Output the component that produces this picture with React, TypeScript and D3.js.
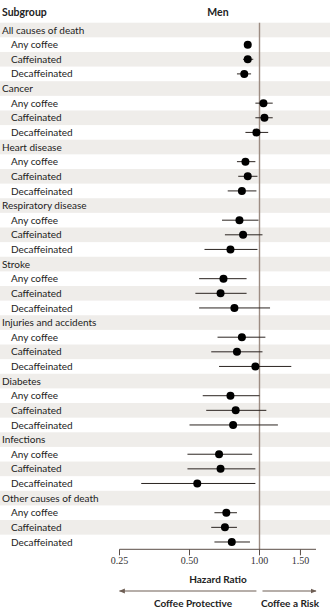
import React from "react";
import * as d3 from "d3";

const groups = [
  "All causes of death",
  "Cancer",
  "Heart disease",
  "Respiratory disease",
  "Stroke",
  "Injuries and accidents",
  "Diabetes",
  "Infections",
  "Other causes of death",
];
const subtypes = ["Any coffee", "Caffeinated", "Decaffeinated"];

const hr = [0.89, 0.89, 0.86, 1.04, 1.05, 0.97, 0.87, 0.89, 0.84, 0.82, 0.85, 0.75, 0.7, 0.68, 0.78, 0.84, 0.8, 0.96, 0.75, 0.79, 0.77, 0.67, 0.68, 0.54, 0.72, 0.71, 0.76];
const lo = [0.86, 0.85, 0.8, 0.96, 0.96, 0.87, 0.8, 0.81, 0.73, 0.69, 0.71, 0.58, 0.55, 0.53, 0.55, 0.66, 0.62, 0.67, 0.57, 0.59, 0.5, 0.49, 0.49, 0.31, 0.64, 0.62, 0.64];
const hi = [0.92, 0.94, 0.92, 1.14, 1.14, 1.09, 0.96, 0.98, 0.97, 0.99, 1.03, 0.98, 0.88, 0.88, 1.11, 1.06, 1.03, 1.37, 1.0, 1.07, 1.2, 0.93, 0.96, 0.96, 0.8, 0.8, 0.91];

const tickValues = [0.25, 0.5, 1.0, 1.5];
const tickLabels = ["0.25", "0.50", "1.00", "1.50"];

const FONT = "Lato, 'Open Sans', sans-serif";
const SERIF = "'Liberation Serif', 'DejaVu Serif', serif";

type Row = { key: string; label: string; header: boolean; idx: number };

export default function App() {
  const rows: Row[] = [];
  groups.forEach((g, gi) => {
    rows.push({ key: `g${gi}`, label: g, header: true, idx: -1 });
    subtypes.forEach((s, si) => {
      rows.push({ key: `g${gi}s${si}`, label: s, header: false, idx: gi * 3 + si });
    });
  });

  const y = d3
    .scaleBand<string>()
    .domain(rows.map((r) => r.key))
    .range([22.7, 549.3])
    .padding(0);
  const x = d3.scaleLog().domain([0.25, 1]).range([119.5, 259.5]);
  const axisY = 549.3;
  const axisEnd = x(1.75);
  const lineColor = "#2b2420";

  return (
    <svg
      width={330}
      height={611}
      style={{ position: "absolute", left: 0, top: 0, background: "#fff" }}
      fontFamily={FONT}
    >
      <text x={2} y={16} fontSize={10.5} fontWeight={700} fill="#222">
        Subgroup
      </text>
      <text x={218} y={16} fontSize={10.5} fontWeight={700} fill="#222" textAnchor="middle">
        Men
      </text>
      {rows.map((r, i) => (
        <g key={r.key}>
          {i % 2 === 0 && (
            <rect x={0} y={y(r.key)} width={330} height={y.bandwidth()} fill="#efedea" />
          )}
          <text
            x={r.header ? 2 : 11}
            y={(y(r.key) as number) + y.bandwidth() / 2 + 3.6}
            fontSize={10}
            fill="#222"
          >
            {r.label}
          </text>
        </g>
      ))}
      <line x1={x(1)} x2={x(1)} y1={22.7} y2={axisY} stroke="#9c8c82" strokeWidth={1.4} />
      {rows
        .filter((r) => !r.header)
        .map((r) => {
          const cy = (y(r.key) as number) + y.bandwidth() / 2;
          return (
            <g key={"m" + r.key}>
              <line x1={x(lo[r.idx])} x2={x(hi[r.idx])} y1={cy} y2={cy} stroke={lineColor} strokeWidth={1} />
              <circle cx={x(hr[r.idx])} cy={cy} r={4} fill="#000" />
            </g>
          );
        })}
      {/* axis */}
      <line x1={x(0.25)} x2={axisEnd} y1={axisY} y2={axisY} stroke="#5a4e47" strokeWidth={1} />
      {tickValues.map((t, i) => (
        <g key={t}>
          <line x1={x(t)} x2={x(t)} y1={axisY} y2={axisY + 6} stroke="#5a4e47" strokeWidth={1} />
          <text x={x(t)} y={axisY + 15} fontSize={10} textAnchor="middle" fill="#333" fontFamily={SERIF}>
            {tickLabels[i]}
          </text>
        </g>
      ))}
      <text x={218} y={582.5} fontSize={10} fontWeight={700} textAnchor="middle" fill="#222">
        Hazard Ratio
      </text>
      <defs>
        <marker id="ah" viewBox="0 0 10 10" refX={9} refY={5} markerWidth={5} markerHeight={5} orient="auto-start-reverse">
          <path d="M0,1 L10,5 L0,9 Z" fill="#6e5e54" />
        </marker>
      </defs>
      <line x1={x(0.25)} x2={x(0.97)} y1={591} y2={591} stroke="#6e5e54" strokeWidth={1.2} markerStart="url(#ah)" />
      <line x1={x(1.03)} x2={axisEnd} y1={591} y2={591} stroke="#6e5e54" strokeWidth={1.2} markerEnd="url(#ah)" />
      <text x={193} y={607} fontSize={10} fontWeight={700} textAnchor="middle" fill="#222">
        Coffee Protective
      </text>
      <text x={290} y={607} fontSize={10} fontWeight={700} textAnchor="middle" fill="#222">
        Coffee a Risk
      </text>
    </svg>
  );
}
